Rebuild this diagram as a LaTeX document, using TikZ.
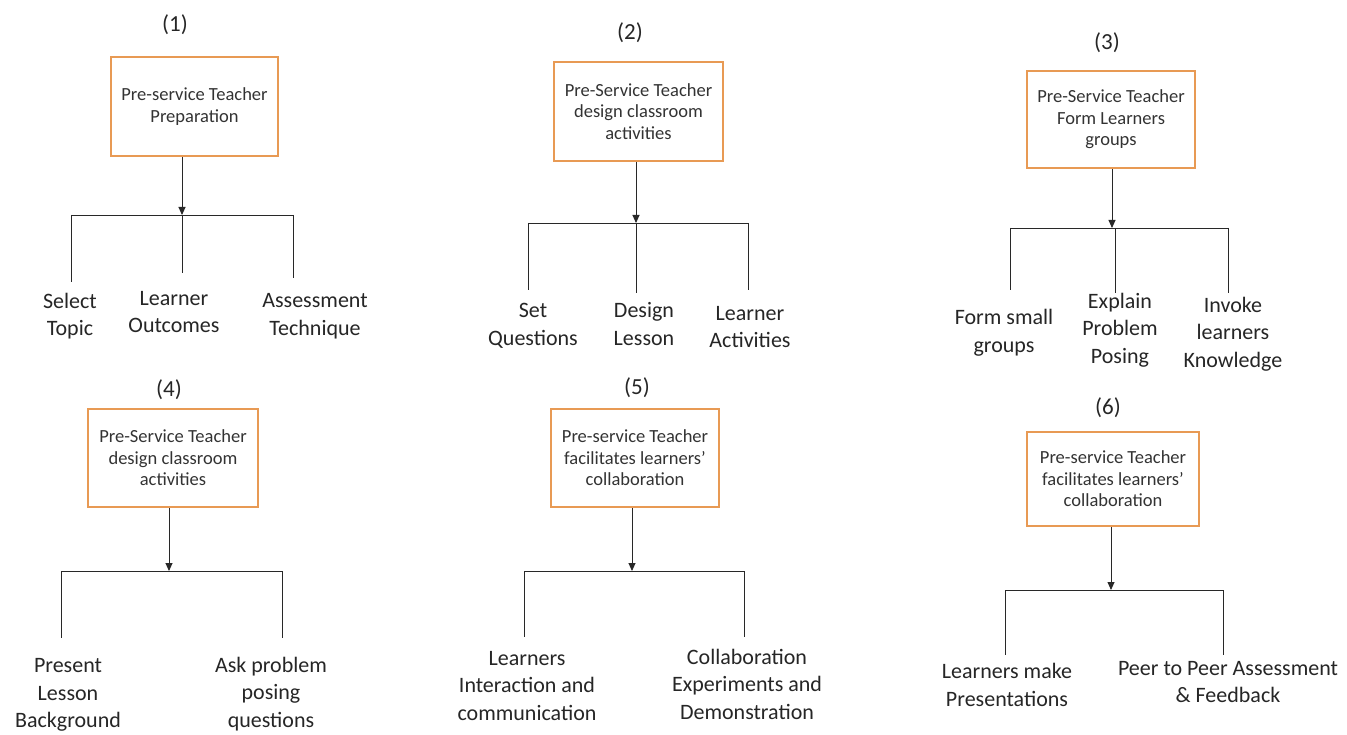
\documentclass[tikz,border=0pt]{standalone}
\usepackage{fontspec}
\setmainfont{Carlito}
\usetikzlibrary{arrows.meta}
\definecolor{boxorange}{RGB}{232,154,84}
\definecolor{linegrey}{RGB}{40,40,40}
\begin{document}
\begin{tikzpicture}[x=1pt,y=-1pt,
  hbox/.style={draw=boxorange,line width=2.6pt,fill=white,inner sep=0pt,align=center,
     font=\fontsize{18.5}{21.5}\selectfont,text=black!80},
  lab/.style={inner sep=0pt,align=center,font=\fontsize{22}{27.5}\selectfont,text=black!85},
  num/.style={inner sep=0pt,font=\fontsize{23}{27}\selectfont,text=black!85},
  conn/.style={draw=linegrey,line width=0.9pt},
  arr/.style={conn,-{Triangle[length=8pt,width=7pt]}}]
\useasboundingbox (0,0) rectangle (1347,735);
\fill[white] (0,0) rectangle (1347,735);

% ---------- Panel 1 ----------
\node[num] (n1) at (175,25) {(1)};
\node[hbox,minimum width=167pt,minimum height=99pt] (b1) at (194.5,106.5) {Pre-service Teacher\\Preparation};
\coordinate (j1) at (182,215);
\coordinate (l1) at (71,215);
\coordinate (r1) at (293,215);
\coordinate (l1e) at (71,282);
\coordinate (m1e) at (182,273);
\coordinate (r1e) at (293,278);
\draw[arr] (b1.south -| j1) -- (j1);
\draw[conn] (l1) -- (r1);
\draw[conn] (l1) -- (l1e);
\draw[conn] (j1) -- (m1e);
\draw[conn] (r1) -- (r1e);
\node[lab] (t1a) at (70,316) {Select\\Topic};
\node[lab] (t1b) at (174,312) {Learner\\Outcomes};
\node[lab] (t1c) at (315,316) {Assessment\\Technique};

% ---------- Panel 2 ----------
\node[num] (n2) at (630,33) {(2)};
\node[hbox,minimum width=169pt,minimum height=99pt] (b2) at (638.5,111.5) {Pre-Service Teacher\\design classroom\\activities};
\coordinate (j2) at (636,223);
\coordinate (l2) at (528,223);
\coordinate (r2) at (748,223);
\coordinate (l2e) at (528,290);
\coordinate (m2e) at (636,293);
\coordinate (r2e) at (748,290);
\draw[arr] (b2.south -| j2) -- (j2);
\draw[conn] (l2) -- (r2);
\draw[conn] (l2) -- (l2e);
\draw[conn] (j2) -- (m2e);
\draw[conn] (r2) -- (r2e);
\node[lab] (t2a) at (533,326) {Set\\Questions};
\node[lab] (t2b) at (644,324) {Design\\Lesson};
\node[lab] (t2c) at (750,327) {Learner\\Activities};

% ---------- Panel 3 ----------
\node[num] (n3) at (1107,43) {(3)};
\node[hbox,minimum width=168pt,minimum height=97pt] (b3) at (1111,119.5) {Pre-Service Teacher\\Form Learners\\groups};
\coordinate (j3) at (1112,228);
\coordinate (l3) at (1010,228);
\coordinate (r3) at (1228,228);
\coordinate (m3) at (1115,228);
\coordinate (l3e) at (1010,290);
\coordinate (m3e) at (1115,293);
\coordinate (r3e) at (1228,293);
\draw[arr] (b3.south -| j3) -- (j3);
\draw[conn] (l3) -- (r3);
\draw[conn] (l3) -- (l3e);
\draw[conn] (m3) -- (m3e);
\draw[conn] (r3) -- (r3e);
\node[lab] (t3a) at (1004,333) {Form small\\groups};
\node[lab] (t3b) at (1120,330) {Explain\\Problem\\Posing};
\node[lab] (t3c) at (1233,334) {Invoke\\learners\\Knowledge};

% ---------- Panel 4 ----------
\node[num] (n4) at (169,390) {(4)};
\node[hbox,minimum width=170pt,minimum height=98pt] (b4) at (173,458) {Pre-Service Teacher\\design classroom\\activities};
\coordinate (j4) at (169,571);
\coordinate (l4) at (61,571);
\coordinate (r4) at (282,571);
\coordinate (l4e) at (61,638);
\coordinate (r4e) at (282,638);
\draw[arr] (b4.south -| j4) -- (j4);
\draw[conn] (l4) -- (r4);
\draw[conn] (l4) -- (l4e);
\draw[conn] (r4) -- (r4e);
\node[lab] (t4a) at (68,695) {Present\\Lesson\\Background};
\node[lab] (t4b) at (271,694) {Ask problem\\posing\\questions};

% ---------- Panel 5 ----------
\node[num] (n5) at (637,388) {(5)};
\node[hbox,minimum width=168pt,minimum height=98pt] (b5) at (635,458) {Pre-service Teacher\\facilitates learners'\\collaboration};
\coordinate (j5) at (632,571);
\coordinate (l5) at (524,571);
\coordinate (r5) at (744,571);
\coordinate (l5e) at (524,637);
\coordinate (r5e) at (744,637);
\draw[arr] (b5.south -| j5) -- (j5);
\draw[conn] (l5) -- (r5);
\draw[conn] (l5) -- (l5e);
\draw[conn] (r5) -- (r5e);
\node[lab] (t5a) at (527,686) {Learners\\Interaction and\\communication};
\node[lab] (t5b) at (747,684) {Collaboration\\Experiments and\\Demonstration};

% ---------- Panel 6 ----------
\node[num] (n6) at (1108,408) {(6)};
\node[hbox,minimum width=172pt,minimum height=94pt] (b6) at (1113,479) {Pre-service Teacher\\facilitates learners'\\collaboration};
\coordinate (j6) at (1111,590);
\coordinate (l6) at (1005,590);
\coordinate (r6) at (1223,590);
\coordinate (l6e) at (1005,655);
\coordinate (r6e) at (1223,655);
\draw[arr] (b6.south -| j6) -- (j6);
\draw[conn] (l6) -- (r6);
\draw[conn] (l6) -- (l6e);
\draw[conn] (r6) -- (r6e);
\node[lab] (t6a) at (1007,685) {Learners make\\Presentations};
\node[lab] (t6b) at (1228,682) {Peer to Peer Assessment\\\& Feedback};
\end{tikzpicture}
\end{document}
